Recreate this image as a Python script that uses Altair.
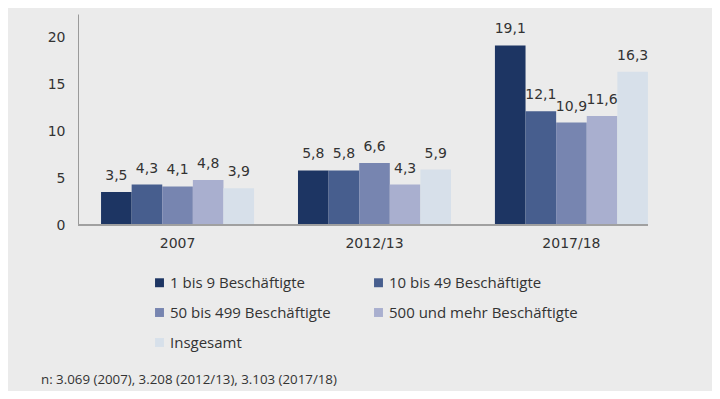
import altair as alt
import pandas as pd

years = ["2007", "2012/13", "2017/18"]
series = ["1 bis 9 Beschäftigte", "10 bis 49 Beschäftigte", "50 bis 499 Beschäftigte",
          "500 und mehr Beschäftigte", "Insgesamt"]
v_2007 = [3.5, 4.3, 4.1, 4.8, 3.9]
v_2012 = [5.8, 5.8, 6.6, 4.3, 5.9]
v_2017 = [19.1, 12.1, 10.9, 11.6, 16.3]
colors = ["#1d3563", "#475e8e", "#7785b0", "#a9afcf", "#d7e0ea"]
y_ticks = [0, 5, 10, 15, 20]
footnote = "n: 3.069 (2007), 3.208 (2012/13), 3.103 (2017/18)"

rows = []
for yr, vals in zip(years, [v_2007, v_2012, v_2017]):
    for i, (s, v) in enumerate(zip(series, vals)):
        rows.append({"year": yr, "series": s, "order": i, "value": v,
                     "label": f"{v:.1f}".replace(".", ",")})
df = pd.DataFrame(rows)

FONT = "Open Sans"
NUMFONT = "DejaVu Sans"
W, H = 593, 211

x = alt.X("year:N", sort=years, title=None,
          scale=alt.Scale(paddingInner=0.223, paddingOuter=0.117),
          axis=alt.Axis(domain=False, ticks=False, labelAngle=0, labelPadding=11,
                        labelFontSize=14, labelColor="#333333", labelFont=NUMFONT))
xo = alt.XOffset("series:N", sort=series, scale=alt.Scale(paddingInner=0, paddingOuter=0))
y = alt.Y("value:Q", title=None,
          scale=alt.Scale(domain=[0, 22.45], nice=False),
          axis=alt.Axis(values=y_ticks, grid=False, ticks=False, domainColor="#9a9a9a",
                        domainWidth=1, labelPadding=13, labelFontSize=14,
                        labelColor="#333333", labelFont=NUMFONT))

bars = alt.Chart(df).mark_bar().encode(
    x=x, xOffset=xo, y=y,
    color=alt.Color("series:N", sort=series, title=None,
                    scale=alt.Scale(domain=series, range=colors),
                    legend=alt.Legend(orient="none", legendX=74, legendY=261, columns=2,
                                      direction="horizontal",
                                      symbolType="square", symbolSize=80, symbolStrokeWidth=0,
                                      labelFontSize=15, labelFont=FONT, labelColor="#333333",
                                      labelOffset=3, columnPadding=40, rowPadding=14,
                                      labelLimit=300)),
)

labels = alt.Chart(df).mark_text(baseline="bottom", dy=-9, fontSize=14, font=NUMFONT,
                                 color="#333333").encode(
    x=alt.X("year:N", sort=years), xOffset=xo, y="value:Q", text="label:N")

base_rule = alt.Chart(pd.DataFrame({"a": [0]})).mark_rule(color="#a0a0a0", strokeWidth=2).encode(
    x=alt.value(0), x2=alt.value(570), y=alt.value(H))

foot = alt.Chart(pd.DataFrame({"t": [footnote]})).mark_text(
    align="left", baseline="middle", fontSize=13.3, font=FONT, color="#333333").encode(
    x=alt.value(-37), y=alt.value(366), text="t:N")

chart = alt.layer(bars, labels, base_rule, foot).properties(
    width=W, height=H,
    autosize=alt.AutoSizeParams(type="none"),
    padding={"left": 70, "top": 6, "right": 41, "bottom": 166},
    background="#ebebeb",
).configure_view(stroke=None)

chart.save("out.html", embed_options={"renderer": "svg", "actions": False})
